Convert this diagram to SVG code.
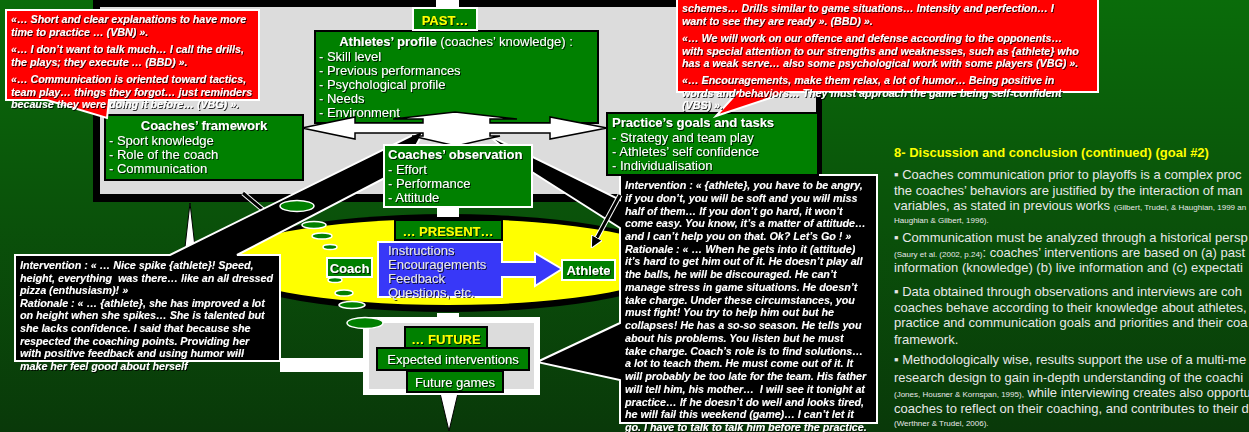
<svg xmlns="http://www.w3.org/2000/svg" width="1249" height="432" viewBox="0 0 1249 432">
<defs>
<linearGradient id="bg" x1="0" y1="0" x2="0" y2="1">
<stop offset="0" stop-color="#0a6c0a"/><stop offset="0.5" stop-color="#0a520a"/><stop offset="1" stop-color="#093909"/>
</linearGradient>
<filter id="sh" x="-10%" y="-30%" width="120%" height="160%"><feDropShadow dx="1" dy="1" stdDeviation="0.4" flood-color="#000" flood-opacity="0.8"/></filter>
<marker id="ah" viewBox="0 0 10 10" refX="7" refY="5" markerWidth="4" markerHeight="4" orient="auto" markerUnits="strokeWidth"><path d="M0,0 L10,5 L0,10 Z" fill="#000" stroke="#fff" stroke-width="1"/></marker>
<style>
.box{fill:#008000;stroke:#000;stroke-width:2}
.boxw{fill:#008000;stroke:#fff;stroke-width:2}
.t{font-family:"Liberation Sans",Arial,sans-serif;font-size:13px;fill:#fff}
.b{font-weight:bold}
.y{fill:#ffff00;font-weight:bold}
.q{font-family:"Liberation Sans",Arial,sans-serif;font-size:10.7px;font-weight:bold;font-style:italic;fill:#fff}
.r{font-family:"Liberation Sans",Arial,sans-serif;font-size:13px;fill:#e8e8e8}
.s{font-size:8px}
.bub{fill:#008000;stroke:#fff;stroke-width:1.5}
.cb{fill:#000;stroke:#fff;stroke-width:2}
.cr{fill:#ff0000;stroke:#fff;stroke-width:2}
</style>
</defs>
<rect width="1249" height="432" fill="url(#bg)"/>

<g id="panel-past">
<rect x="93" y="-10" width="729" height="212" fill="#000"/>
<rect x="100" y="7" width="716" height="187" fill="#dcdcdc"/>
<rect x="436" y="0" width="23" height="8" fill="#fff"/>
</g>

<g id="connectors">
<polygon points="190,203 184,256 196,256" fill="#fff" stroke="#000" stroke-width="1"/>
<path d="M243,193 L301,242" stroke="#fff" stroke-width="5" fill="none"/>
<path d="M243,193 L301,242" stroke="#000" stroke-width="3" fill="none" marker-end="url(#ah)"/>
</g>

<g id="node-present-ellipse">
<ellipse cx="448" cy="263" rx="233" ry="49" fill="#000"/>
<ellipse cx="448" cy="262" rx="228" ry="43" fill="#ffff00"/>
</g>

<g id="callout-left">
<path class="cb" d="M15,255 H170 L425,129 L404,168 L237,255 H280 V361 H15 Z"/>
</g>
<g id="callout-right">
<path class="cb" d="M620,175 H877 V423 H620 V380 L537,362 L620,323 V228 L532,172 L488,135 L620,200 Z"/>
</g>

<g id="connectors-2">
<path d="M620,195 L593,245" stroke="#fff" stroke-width="5" fill="none"/>
<path d="M620,195 L593,245" stroke="#000" stroke-width="3" fill="none" marker-end="url(#ah)"/>
<rect x="280" y="358" width="86" height="14" fill="#fff"/>
<rect x="437" y="205" width="22" height="12" fill="#fff"/>
<rect x="437" y="313" width="22" height="8" fill="#fff"/>
<polygon points="440,393 458,393 449,431" fill="#fff" stroke="#000" stroke-width="1"/>
</g>

<g id="node-athletes-profile">
<rect class="box" x="315" y="31" width="283" height="92"/>
<g class="t" filter="url(#sh)">
<text x="456" y="46" text-anchor="middle"><tspan class="b">Athletes’ profile</tspan> (coaches’ knowledge) :</text>
<text x="319" y="61">- Skill level</text>
<text x="319" y="75">- Previous performances</text>
<text x="319" y="89">- Psychological profile</text>
<text x="319" y="103">- Needs</text>
<text x="319" y="117">- Environment</text>
</g>
</g>

<g id="hub">
<polygon points="455,112 517,119 490,119 490,123 550,123 550,117 607,128 550,139 550,133 490,133 490,136 500,136 456,146 412,136 423,136 423,133 355,133 355,139 302,128 355,117 355,123 423,123 423,119 393,119" fill="#fff" stroke="#000" stroke-width="1.5"/>
</g>

<g id="node-past">
<rect class="boxw" x="413" y="8" width="64" height="22"/>
<text class="t y" x="445" y="25" text-anchor="middle" filter="url(#sh)">PAST…</text>
</g>

<g id="node-coaches-framework">
<rect class="box" x="105" y="115" width="198" height="65"/>
<g class="t" filter="url(#sh)">
<text class="b" x="204" y="130" text-anchor="middle">Coaches’ framework</text>
<text x="109" y="145">- Sport knowledge</text>
<text x="109" y="159">- Role of the coach</text>
<text x="109" y="173">- Communication</text>
</g>
</g>

<g id="node-practice-goals">
<rect class="box" x="607" y="113" width="211" height="62"/>
<g class="t" filter="url(#sh)">
<text class="b" x="612" y="127">Practice’s goals and tasks</text>
<text x="612" y="142">- Strategy and team play</text>
<text x="612" y="156">- Athletes’ self confidence</text>
<text x="612" y="170">- Individualisation</text>
</g>
</g>

<g id="node-coaches-observation">
<rect class="boxw" x="384" y="145" width="148" height="62"/>
<g class="t" filter="url(#sh)">
<text class="b" x="388" y="159">Coaches’ observation</text>
<text x="388" y="174">- Effort</text>
<text x="388" y="188">- Performance</text>
<text x="388" y="202">- Attitude</text>
</g>
</g>

<g id="node-present">
<rect class="box" x="395" y="220" width="107" height="20"/>
<text class="t y" x="448" y="236" text-anchor="middle" filter="url(#sh)">… PRESENT…</text>
</g>

<g id="node-interventions">
<polygon points="378,242 502,242 502,262 535,262 535,253 562,269 535,286 535,277 502,277 502,297 378,297" fill="#3838f8" stroke="#fff" stroke-width="2"/>
<g class="t" filter="url(#sh)" style="fill:#e6e6e6">
<text x="388" y="255">Instructions</text>
<text x="388" y="269">Encouragements</text>
<text x="388" y="283">Feedback</text>
<text x="388" y="297">Questions, etc.</text>
</g>
</g>

<g id="node-coach">
<rect class="boxw" x="327" y="258" width="45" height="19"/>
<text class="t b" x="349.5" y="273" text-anchor="middle" filter="url(#sh)">Coach</text>
</g>
<g id="node-athlete">
<rect class="boxw" x="562" y="260" width="53" height="20"/>
<text class="t b" x="588.5" y="275" text-anchor="middle" filter="url(#sh)">Athlete</text>
</g>

<g id="node-future">
<rect x="366" y="320" width="171" height="72" fill="#dcdcdc" stroke="#fff" stroke-width="6"/>
<rect class="box" x="405" y="327" width="82" height="21"/>
<text class="t y" x="446" y="344" text-anchor="middle" filter="url(#sh)">… FUTURE</text>
</g>
<g id="node-expected">
<rect class="box" x="377" y="348" width="152" height="22"/>
<text class="t" x="453" y="364" text-anchor="middle" filter="url(#sh)">Expected interventions</text>
</g>
<g id="node-future-games">
<rect class="box" x="407" y="371" width="96" height="21"/>
<text class="t" x="455" y="387" text-anchor="middle" filter="url(#sh)">Future games</text>
</g>

<g id="bubbles">
<ellipse class="bub" cx="297" cy="206" rx="17" ry="5.5"/>
<ellipse class="bub" cx="314" cy="225" rx="12" ry="3.5"/>
<ellipse class="bub" cx="322" cy="236" rx="10" ry="3"/>
<ellipse class="bub" cx="330" cy="247" rx="7" ry="2.5"/>
<ellipse class="bub" cx="335" cy="280" rx="7" ry="2.5"/>
<ellipse class="bub" cx="344" cy="293" rx="9" ry="3"/>
<ellipse class="bub" cx="352" cy="305" rx="13" ry="3.5"/>
<ellipse class="bub" cx="365" cy="323" rx="18" ry="5.5"/>
</g>

<g id="callout-top-left">
<path class="cr" d="M6,10 H259 V100 H109 L107,118 L47,100 H6 Z"/>
<g class="q" filter="url(#sh)">
<text x="11" y="23">«… Short and clear explanations to have more</text>
<text x="11" y="36">time to practice … (VBN) ».</text>
<text x="11" y="53">«… I don’t want to talk much… I call the drills,</text>
<text x="11" y="65.7">the plays; they execute … (BBD) ».</text>
<text x="11" y="83">«… Communication is oriented toward tactics,</text>
<text x="11" y="95.7">team play… things they forgot… just reminders</text>
<text x="11" y="108.4">because they were doing it before… (VBG) ».</text>
</g>
</g>

<g id="callout-top-right">
<path class="cr" d="M677,-5 H1098 V92 H788 L716,116 L738,92 H677 Z"/>
<g class="q" filter="url(#sh)">
<text x="682" y="12">schemes… Drills similar to game situations… Intensity and perfection… I</text>
<text x="682" y="25">want to see they are ready ». (BBD) ».</text>
<text x="682" y="42">«… We will work on our offence and defense according to the opponents…</text>
<text x="682" y="54.7">with special attention to our strengths and weaknesses, such as {athlete} who</text>
<text x="682" y="67.4">has a weak serve… also some psychological work with some players (VBG) ».</text>
<text x="682" y="84">«… Encouragements, make them relax, a lot of humor… Being positive in</text>
<text x="682" y="96.7">words and behaviors… They must approach the game being self-confident</text>
<text x="682" y="109.4">(VBS) ».</text>
</g>
</g>

<g id="callout-left-text" class="q" filter="url(#sh)">
<text x="20" y="269">Intervention : « … Nice spike {athlete}! Speed,</text>
<text x="20" y="281.6" xml:space="preserve">height, everything  was there… like an all dressed</text>
<text x="20" y="294.2">pizza (enthusiasm)! »</text>
<text x="20" y="306.8">Rationale : « … {athlete}, she has improved a lot</text>
<text x="20" y="319.4">on height when she spikes… She is talented but</text>
<text x="20" y="332">she lacks confidence. I said that because she</text>
<text x="20" y="344.6">respected the coaching points. Providing her</text>
<text x="20" y="357.2">with positive feedback and using humor will</text>
<text x="20" y="369.8">make her feel good about herself</text>
</g>

<g id="callout-right-text" class="q" filter="url(#sh)">
<text x="625" y="189">Intervention : « {athlete}, you have to be angry,</text>
<text x="625" y="201.7">if you don’t, you will be soft and you will miss</text>
<text x="625" y="214.5">half of them… If you don’t go hard, it won’t</text>
<text x="625" y="227.2">come easy. You know, it’s a matter of attitude…</text>
<text x="625" y="240">and I can’t help you on that. Ok? Let’s Go ! »</text>
<text x="625" y="252.7">Rationale : « … When he gets into it (attitude)</text>
<text x="625" y="265.4">it’s hard to get him out of it. He doesn’t play all</text>
<text x="625" y="278.2">the balls, he will be discouraged. He can’t</text>
<text x="625" y="290.9">manage stress in game situations. He doesn’t</text>
<text x="625" y="303.7">take charge. Under these circumstances, you</text>
<text x="625" y="316.4">must fight! You try to help him out but he</text>
<text x="625" y="329.1">collapses! He has a so-so season. He tells you</text>
<text x="625" y="341.9">about his problems. You listen but he must</text>
<text x="625" y="354.6">take charge. Coach’s role is to find solutions…</text>
<text x="625" y="367.4">a lot to teach them. He must come out of it. It</text>
<text x="625" y="380.1">will probably be too late for the team. His father</text>
<text x="625" y="392.8" xml:space="preserve">will tell him, his mother…  I will see it tonight at</text>
<text x="625" y="405.6">practice… If he doesn’t do well and looks tired,</text>
<text x="625" y="418.3">he will fail this weekend (game)… I can’t let it</text>
<text x="625" y="431">go. I have to talk to talk him before the practice.</text>
</g>

<g id="discussion">
<text x="894" y="157" class="r" style="fill:#ffff00;font-weight:bold">8- Discussion and conclusion (continued) (goal #2)</text>
<g class="r">
<text x="894" y="179">▪ Coaches communication prior to playoffs is a complex proc</text>
<text x="894" y="194.5">the coaches’ behaviors are justified by the interaction of man</text>
<text x="894" y="210">variables, as stated in previous works <tspan class="s">(Gilbert, Trudel, &amp; Haughian, 1999 an</tspan></text>
<text x="894" y="223" class="s">Haughian &amp; Gilbert, 1996).</text>
<text x="894" y="242">▪ Communication must be analyzed through a historical persp</text>
<text x="894" y="257"><tspan class="s">(Saury et al. (2002, p.24)</tspan>: coaches’ interventions are based on (a) past</text>
<text x="894" y="272">information (knowledge) (b) live information and (c) expectati</text>
<text x="894" y="296">▪ Data obtained through observations and interviews are coh</text>
<text x="894" y="312">coaches behave according to their knowledge about athletes,</text>
<text x="894" y="327">practice and communication goals and priorities and their coa</text>
<text x="894" y="344">framework.</text>
<text x="894" y="364">▪ Methodologically wise, results support the use of a multi-me</text>
<text x="894" y="382">research design to gain in-depth understanding of the coachi</text>
<text x="894" y="397"><tspan class="s">(Jones, Housner &amp; Kornspan, 1995),</tspan> while interviewing creates also opportu</text>
<text x="894" y="413">coaches to reflect on their coaching, and contributes to their d</text>
<text x="894" y="426" class="s">(Werthner &amp; Trudel, 2006).</text>
</g>
</g>
</svg>
